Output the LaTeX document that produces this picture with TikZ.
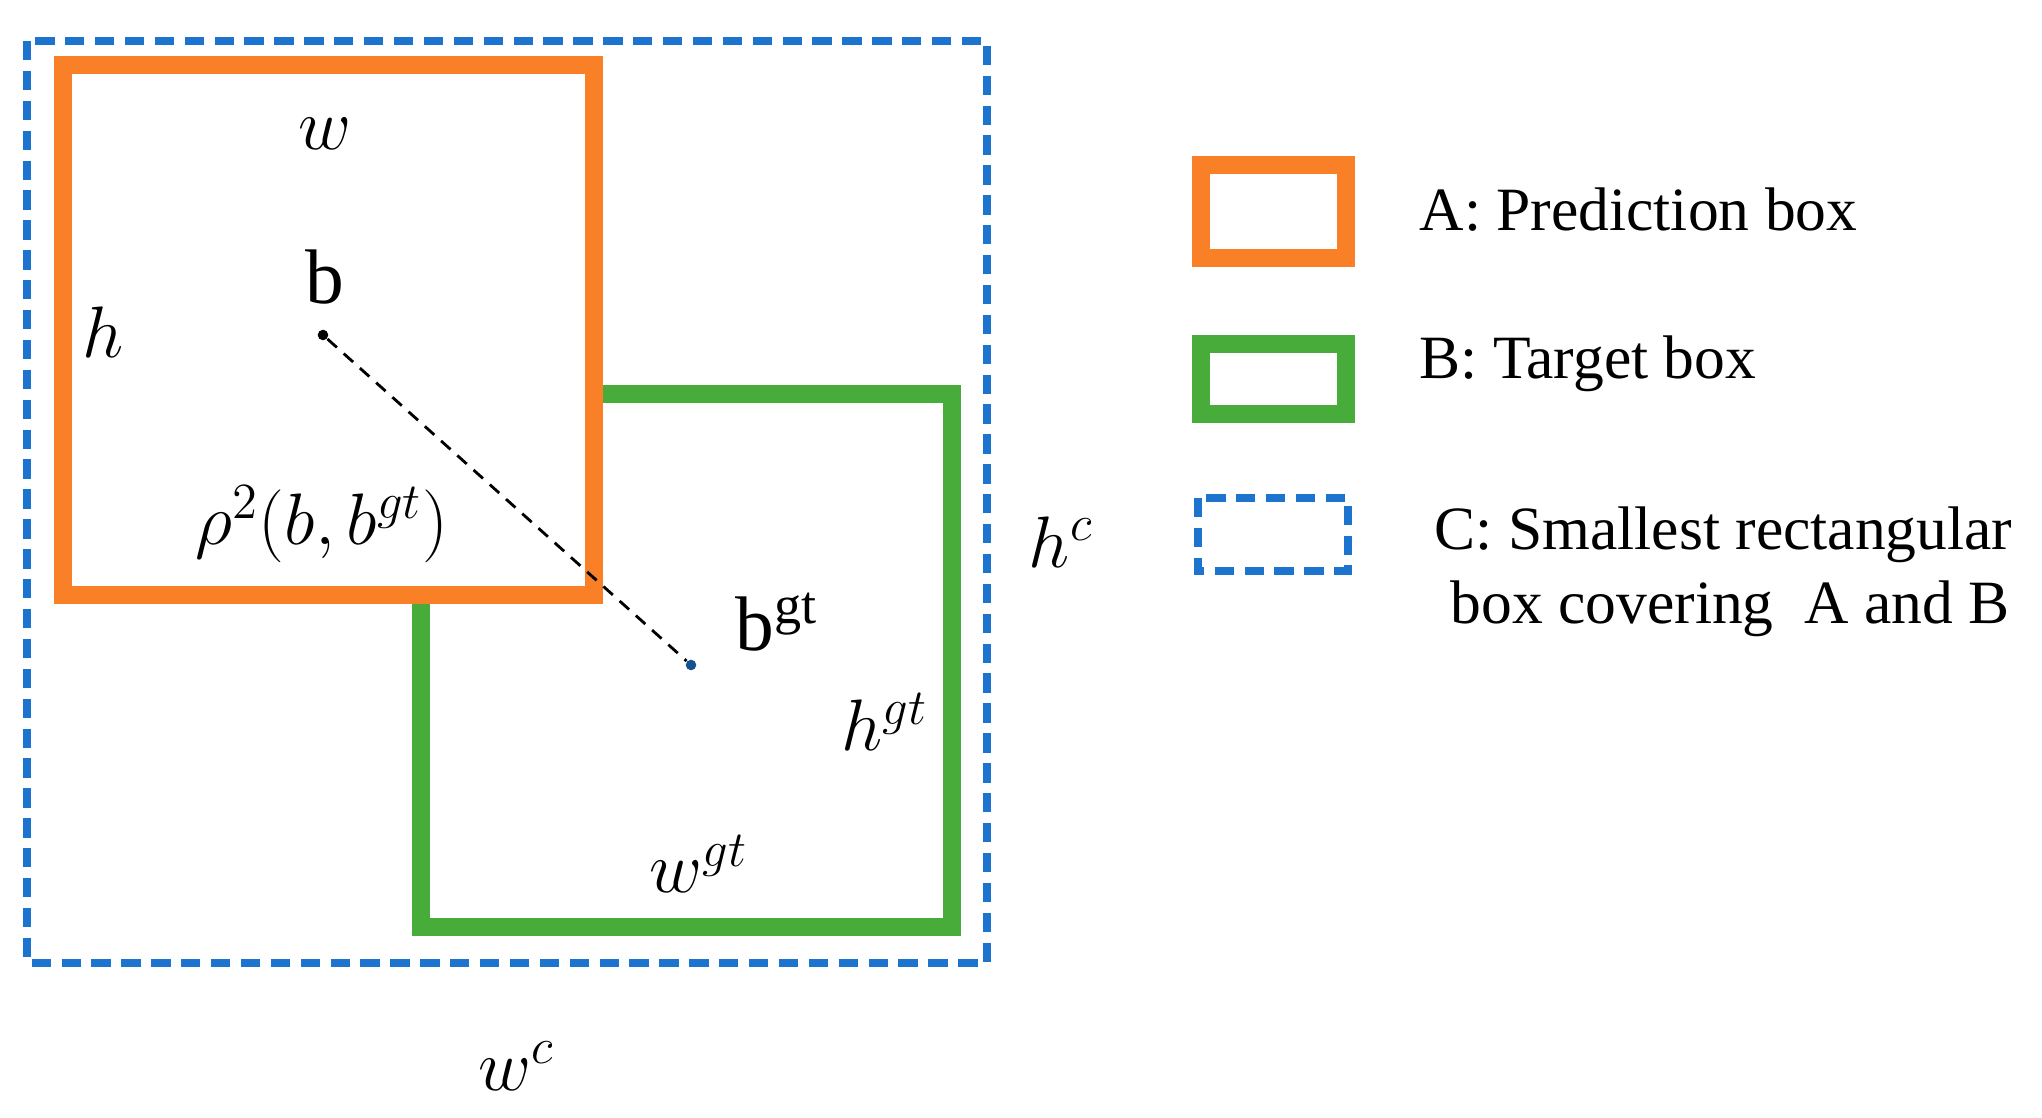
\documentclass[tikz,border=0pt]{standalone}
\usepackage{fontspec}
\setmainfont{Liberation Serif}
\usepackage{tikz}
\definecolor{boxorange}{RGB}{250,128,40}
\definecolor{boxgreen}{RGB}{72,172,58}
\definecolor{boxblue}{RGB}{28,116,206}

\begin{document}
\begin{tikzpicture}[x=0.01cm, y=-0.01cm,
  predbox/.style={draw=boxorange, fill=white, line width=4.9pt},
  targbox/.style={draw=boxgreen, line width=4.9pt},
  coverbox/.style={draw=boxblue, line width=2pt, dash pattern=on 5.5pt off 3pt},
  lbl/.style={font=\fontsize{22}{26}\selectfont, inner sep=0pt},
  legtext/.style={font=\fontsize{17.5}{21}\selectfont, anchor=base west, inner sep=0pt},
  dot/.style={circle, fill, inner sep=0pt, minimum size=3pt}]
  \useasboundingbox (0,0) rectangle (2042,1118);
  \draw[coverbox] (27,41) rectangle (987,963);
  \draw[targbox] (421,394) rectangle (952,927);
  \draw[predbox] (63,65) rectangle (594,595);
  \node[dot, black] (b) at (323,335) {};
  \node[dot, boxblue!70!black] (bgt) at (691,665) {};
  \draw[line width=0.8pt, dash pattern=on 3.6pt off 2.6pt] (b) -- (bgt);
  \node[lbl] (w) at (325,134) {$w$};
  \node[lbl] (blbl) at (325,277) {$\mathrm{b}$};
  \node[lbl] (h) at (103,332) {$h$};
  \node[lbl] (rho) at (322,524) {$\rho^2(b,b^{gt})$};
  \node[lbl] (bgtlbl) at (777,622) {$\mathrm{b}^{\mathrm{gt}}$};
  \node[lbl] (hgt) at (885,722) {$h^{gt}$};
  \node[lbl] (wgt) at (699,864) {$w^{gt}$};
  \node[lbl] (hc) at (1061,542) {$h^{c}$};
  \node[lbl] (wc) at (517,1066) {$w^{c}$};
  \draw[predbox] (1201,165) rectangle (1346,258);
  \draw[targbox] (1201,344) rectangle (1346,414);
  \draw[coverbox] (1198,498) rectangle (1348,571);
  \node[legtext] (legA) at (1419,230) {A: Prediction box};
  \node[legtext] (legB) at (1419,378) {B: Target box};
  \node[legtext] (legC) at (1434,549) {C: Smallest rectangular};
  \node[legtext] (legC2) at (1450,623) {box covering~ A and B};
\end{tikzpicture}
\end{document}
